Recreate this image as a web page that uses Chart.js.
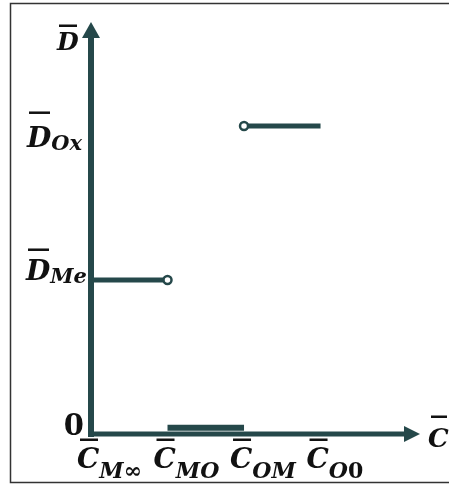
<!DOCTYPE html>
<html>
<head>
<meta charset="utf-8">
<script src="https://cdn.jsdelivr.net/npm/chart.js@4/dist/chart.umd.min.js"></script>
<style>
  html, body { margin: 0; padding: 0; background: #fff; overflow: hidden; }
  #wrap { width: 449px; height: 487px; position: relative; }
</style>
</head>
<body>
<div id="wrap"><canvas id="chart" width="449" height="487"></canvas></div>
<script>
// Tick marks on the horizontal axis: positions, main letter and subscript
const xTickValues = [0, 1, 2, 3];
const xTickLetters = ['C', 'C', 'C', 'C'];
const xTickSubs = ['M∞', 'MO', 'OM', 'O0'];

// Tick marks on the vertical axis
const yTickValues = [0, 1, 2];
const yTickLetters = ['0', 'D', 'D'];
const yTickSubs = ['', 'Me', 'Ox'];

// Axis titles
const xAxisTitle = 'C';
const yAxisTitle = 'D';

// Step levels of D as a function of C
const meLevelX = [0, 1];
const meLevelY = [1, 1];
const zeroLevelX = [1, 2];
const zeroLevelY = [0.04, 0.04];
const oxLevelX = [2, 3];
const oxLevelY = [2, 2];

const INK = '#25484a';
const TEXT = '#111111';
const SERIF = '"DejaVu Serif", "Liberation Serif", serif';

const toPoints = (xs, ys) => xs.map((x, i) => ({ x, y: ys[i] }));

// Letter with an overline and a subscript (digits upright, letters italic)
function drawSymbol(ctx, left, baseline, letter, sub, size, subSize, subDrop, barGap) {
  ctx.save();
  ctx.fillStyle = TEXT;
  ctx.textAlign = 'left';
  ctx.textBaseline = 'alphabetic';
  ctx.font = `italic bold ${size}px ${SERIF}`;
  const m = ctx.measureText(letter);
  ctx.fillText(letter, left, baseline);
  const top = baseline - m.actualBoundingBoxAscent;
  const gl = left - m.actualBoundingBoxLeft;
  const gr = left + m.actualBoundingBoxRight;
  ctx.fillRect(gl + 3, top - barGap - 2.5, gr - gl - 5, 2.5);
  let x = left + m.width;
  for (const ch of sub) {
    const upright = /[0-9]/.test(ch);
    ctx.font = `${upright ? '' : 'italic '}bold ${subSize}px ${SERIF}`;
    ctx.fillText(ch, x, baseline + subDrop);
    x += ctx.measureText(ch).width;
  }
  ctx.restore();
}

const framePlugin = {
  id: 'frame',
  beforeDraw(chart) {
    const ctx = chart.ctx;
    ctx.save();
    ctx.fillStyle = '#fff';
    ctx.fillRect(0, 0, chart.width, chart.height);
    // open frame: top, left and bottom edges
    ctx.strokeStyle = '#333';
    ctx.lineWidth = 1.5;
    ctx.beginPath();
    ctx.moveTo(chart.width, 3.5);
    ctx.lineTo(10.5, 3.5);
    ctx.lineTo(10.5, 482.5);
    ctx.lineTo(chart.width, 482.5);
    ctx.stroke();
    ctx.restore();
  }
};

const axesPlugin = {
  id: 'arrowAxes',
  beforeDatasetsDraw(chart) {
    const ctx = chart.ctx;
    const xs = chart.scales.x, ys = chart.scales.y;
    const x0 = xs.getPixelForValue(0);
    const y0 = ys.getPixelForValue(0);
    const top = chart.chartArea.top;
    const right = chart.chartArea.right;
    ctx.save();
    ctx.fillStyle = INK;
    ctx.strokeStyle = INK;
    ctx.lineCap = 'butt';
    // vertical axis
    ctx.lineWidth = 6;
    ctx.beginPath();
    ctx.moveTo(x0, y0 + 3);
    ctx.lineTo(x0, top + 14);
    ctx.stroke();
    ctx.beginPath();
    ctx.moveTo(x0, top);
    ctx.lineTo(x0 + 9, top + 16);
    ctx.lineTo(x0 - 9, top + 16);
    ctx.closePath();
    ctx.fill();
    // horizontal axis
    ctx.lineWidth = 5;
    ctx.beginPath();
    ctx.moveTo(x0 - 3, y0);
    ctx.lineTo(right - 14, y0);
    ctx.stroke();
    ctx.beginPath();
    ctx.moveTo(right, y0);
    ctx.lineTo(right - 16, y0 - 8);
    ctx.lineTo(right - 16, y0 + 8);
    ctx.closePath();
    ctx.fill();
    ctx.restore();
  },
  afterDraw(chart) {
    const ctx = chart.ctx;
    const xs = chart.scales.x, ys = chart.scales.y;
    const x0 = xs.getPixelForValue(0);
    const y0 = ys.getPixelForValue(0);
    const area = chart.chartArea;

    // horizontal tick labels
    xTickValues.forEach((v, i) => {
      drawSymbol(ctx, xs.getPixelForValue(v) - 14, y0 + 34, xTickLetters[i], xTickSubs[i], 28, 22, 10, 6);
    });

    // vertical tick labels
    const yLabelShift = [1, 0, 21];
    const yLabelLeft = [0, 26, 27];
    const ySubDrop = [0, 3, 3];
    const yBarGap = [0, 8, 12];
    yTickValues.forEach((v, i) => {
      const base = ys.getPixelForValue(v) + yLabelShift[i];
      if (!yTickSubs[i] && /^[0-9]/.test(yTickLetters[i])) {
        ctx.save();
        ctx.fillStyle = TEXT;
        ctx.font = `bold 29px ${SERIF}`;
        ctx.textAlign = 'right';
        ctx.textBaseline = 'alphabetic';
        ctx.fillText(yTickLetters[i], x0 - 7, base);
        ctx.restore();
      } else {
        drawSymbol(ctx, yLabelLeft[i], base, yTickLetters[i], yTickSubs[i], 28, 21, ySubDrop[i], yBarGap[i]);
      }
    });

    // axis titles
    drawSymbol(ctx, x0 - 34, area.top + 28, yAxisTitle, '', 25, 16, 0, 5);
    drawSymbol(ctx, area.right + 8, y0 + 13, xAxisTitle, '', 26, 16, 0, 10);
  }
};

const lineStyle = {
  showLine: true,
  borderColor: INK,
  borderWidth: 5,
  borderCapStyle: 'butt',
  pointStyle: 'circle',
  pointBackgroundColor: '#fff',
  pointBorderColor: INK,
  pointBorderWidth: 2.5,
  tension: 0
};

new Chart(document.getElementById('chart'), {
  type: 'scatter',
  data: {
    datasets: [
      { ...lineStyle, data: toPoints(meLevelX, meLevelY), pointRadius: [0, 4] },
      { ...lineStyle, data: toPoints(zeroLevelX, zeroLevelY), pointRadius: 0, borderWidth: 6 },
      { ...lineStyle, data: toPoints(oxLevelX, oxLevelY), pointRadius: [4, 0] }
    ]
  },
  options: {
    responsive: false,
    animation: false,
    events: [],
    layout: { padding: { left: 91, right: 29, top: 22, bottom: 53 } },
    scales: {
      x: { type: 'linear', min: 0, max: 4.3, display: false },
      y: { type: 'linear', min: 0, max: 2.675, display: false }
    },
    plugins: {
      legend: { display: false },
      tooltip: { enabled: false }
    }
  },
  plugins: [framePlugin, axesPlugin]
});
</script>
</body>
</html>
